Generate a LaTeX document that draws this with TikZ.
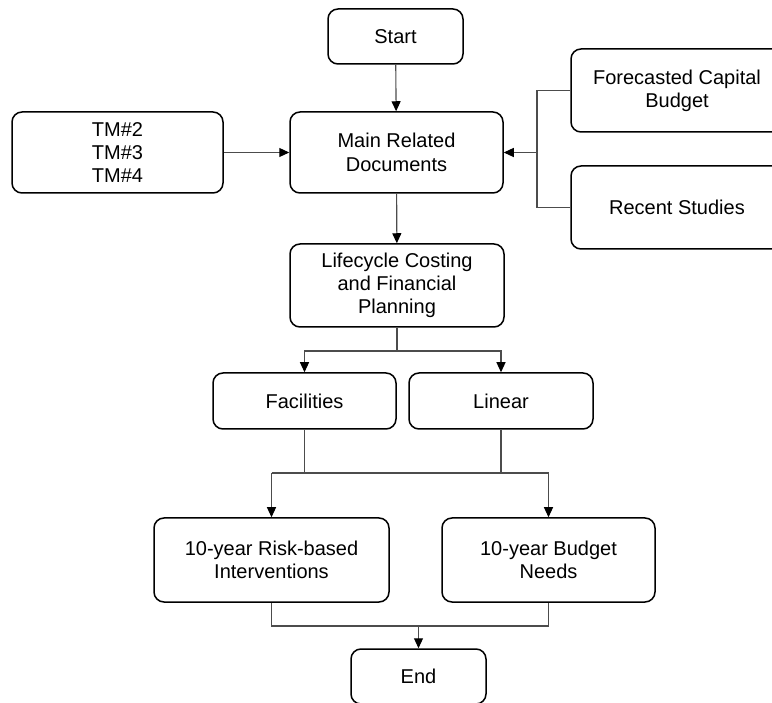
\documentclass[tikz,border=0pt]{standalone}
\usepackage{fontspec}
\setmainfont{Liberation Sans}
\usetikzlibrary{arrows.meta,calc}
\tikzset{
  box/.style={draw,line width=1.5pt,rounded corners=10pt,align=center,inner sep=0pt,
    font=\fontsize{20}{23.3}\selectfont},
  link/.style={draw=black!70,line width=1.1pt},
}
\begin{document}
\begin{tikzpicture}[x=1pt,y=-1pt,>={Triangle[length=10pt,width=9pt,color=black]}]
  \clip (0,0) rectangle (772,703);
  % start and the documents it draws on
  \node[box,minimum width=135pt,minimum height=55pt] (start) at (395.5,36.5) {Start};
  \node[box,minimum width=213pt,minimum height=81pt] (main) at (396.5,152.5) {Main Related\\Documents};
  \node[box,minimum width=211pt,minimum height=81pt] (tm) at (117.5,152.5) {TM\#2\\TM\#3\\TM\#4};
  \node[box,minimum width=212pt,minimum height=83pt] (fcb) at (677,90.5) {Forecasted Capital\\Budget};
  \node[box,minimum width=212pt,minimum height=83pt] (recent) at (677,207.5) {Recent Studies};
  % planning and its two branches
  \node[box,minimum width=214pt,minimum height=83pt] (life) at (397,285.5) {Lifecycle Costing\\and Financial\\Planning};
  \node[box,minimum width=183pt,minimum height=56pt] (fac) at (304.5,401) {Facilities};
  \node[box,minimum width=184pt,minimum height=56pt] (lin) at (501,401) {Linear};
  % outputs
  \node[box,minimum width=235pt,minimum height=84pt] (risk) at (271.5,560) {10-year Risk-based\\Interventions};
  \node[box,minimum width=213pt,minimum height=84pt] (need) at (548.5,560) {10-year Budget\\Needs};
  \node[box,minimum width=135pt,minimum height=55pt] (end) at (418.5,676.5) {End};
  % joints of the connectors
  \coordinate (jr) at (537,152.5);
  \coordinate (jl) at (397,351);
  \coordinate (jm) at (0,473);
  \coordinate (jb) at (418.5,626);
  % connectors
  \draw[link,->] (start) -- (main);
  \draw[link,->] (tm) -- (main);
  \draw[link] (fcb.west) -| (jr) |- (recent.west);
  \draw[link,->] (jr) -- (main.east);
  \draw[link,->] (main) -- (life);
  \draw[link] (life.south) -- (jl);
  \draw[link,->] (jl) -| (fac.north);
  \draw[link,->] (jl) -| (lin.north);
  \draw[link] (fac.south) -- (fac.south |- jm);
  \draw[link] (lin.south) -- (lin.south |- jm);
  \draw[link] (risk.north |- jm) -- (need.north |- jm);
  \draw[link,->] (risk.north |- jm) -- (risk.north);
  \draw[link,->] (need.north |- jm) -- (need.north);
  \draw[link] (risk.south) |- (jb) -| (need.south);
  \draw[link,->] (jb) -- (end);
\end{tikzpicture}
\end{document}
